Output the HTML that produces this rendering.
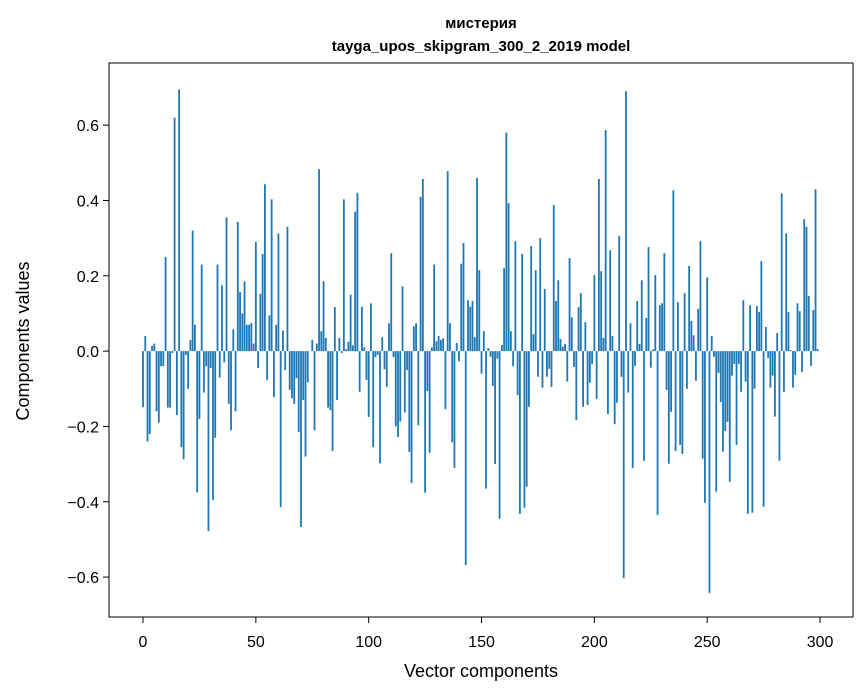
<!DOCTYPE html>
<html><head><meta charset="utf-8"><style>
body{margin:0;background:#fff;}
svg{display:block;font-family:"Liberation Sans","DejaVu Sans",sans-serif;}
</style></head><body>
<svg id="chart" width="867" height="696" viewBox="0 0 867 696" xmlns="http://www.w3.org/2000/svg">
<rect width="867" height="696" fill="#fff"/>
<text x="481" y="28" text-anchor="middle" font-size="15" font-weight="bold">мистерия</text>
<text x="481" y="51" text-anchor="middle" font-size="15" font-weight="bold">tayga_upos_skipgram_300_2_2019 model</text>
<g id="bars"></g>
<g id="axes"></g>
<rect x="109" y="63" width="744" height="554" fill="none" stroke="#000" stroke-width="1"/>
<text x="481" y="677" text-anchor="middle" font-size="18">Vector components</text>
<text transform="translate(29,341) rotate(-90)" text-anchor="middle" font-size="18">Components values</text>
</svg>
<script>
const values = [
-0.149,0.04,-0.24,-0.22,0.014,0.02,-0.16,-0.19,-0.04,-0.04,
0.25,-0.15,-0.15,-0.005,0.62,-0.17,0.695,-0.255,-0.287,-0.01,
-0.1,0.03,0.32,0.07,-0.375,-0.18,0.23,-0.11,-0.04,-0.478,
-0.045,-0.395,-0.23,0.23,-0.07,0.175,-0.03,0.355,-0.14,-0.21,
0.058,-0.16,0.343,0.157,0.1,0.185,0.07,0.07,0.075,0.02,
0.29,-0.045,0.152,0.258,0.443,-0.077,0.095,0.403,-0.122,0.07,
0.312,-0.414,0.055,-0.05,0.33,-0.103,-0.125,-0.14,-0.072,-0.215,
-0.467,-0.13,-0.28,-0.083,0,0.03,-0.21,0.02,0.483,0.053,
0.185,0.035,-0.15,-0.157,-0.265,0.117,-0.13,0.035,-0.005,0.403,
0.005,0.025,0.15,0.015,0.37,0.42,-0.108,0.118,0.01,-0.077,
-0.175,0.127,-0.255,-0.016,-0.01,-0.298,0.037,-0.048,-0.095,0.074,
0.26,-0.016,-0.2,-0.228,-0.187,0.172,-0.163,-0.05,-0.268,-0.35,
0.066,0.074,-0.197,0.41,0.457,-0.376,-0.106,-0.27,0.01,0.23,
0.026,0.04,0.03,0.034,-0.154,0.478,0.074,-0.242,-0.31,0.022,
-0.027,0.232,0.287,-0.568,0.135,0.118,0.133,0.037,0.46,0.215,
-0.06,0.053,-0.365,0.008,-0.015,-0.093,-0.3,-0.02,-0.445,0.016,
0.22,0.58,0.393,0.053,-0.04,0.292,-0.117,-0.432,0.258,-0.416,
-0.36,-0.148,0.279,0.045,0.215,-0.068,0.3,-0.097,0.165,-0.068,
-0.047,-0.095,0.388,0.133,0.188,0.032,0.012,0.019,-0.081,0.247,
0.09,-0.042,-0.183,0.117,0.154,-0.148,0.077,-0.143,-0.084,-0.034,
0.202,-0.127,0.457,0.212,0.035,0.587,-0.167,0.268,0.04,-0.194,
-0.137,0.306,-0.068,-0.603,0.69,-0.11,0.074,-0.31,-0.039,0.133,
0.019,0.188,-0.291,0.088,0.276,-0.044,0.005,0.202,-0.435,0.122,
0.127,0.26,-0.103,-0.299,-0.161,0.427,-0.265,0.13,-0.249,-0.273,
0.154,-0.1,0.226,0.08,0.042,-0.079,0.112,0.292,-0.286,-0.403,
0.196,-0.642,0.04,-0.015,-0.373,-0.058,-0.135,-0.267,-0.212,-0.188,
-0.347,-0.065,-0.034,-0.249,-0.034,-0.108,0.135,-0.081,-0.432,0.122,
-0.429,-0.1,0.12,0.104,0.239,-0.413,0.064,-0.018,-0.097,-0.065,
-0.174,0.048,-0.291,0.419,-0.108,0.313,0.104,0.003,-0.097,-0.063,
0.127,0.106,-0.055,0.35,0.33,0.146,-0.039,0.109,0.43,0.005
];
const xTicks = [0,50,100,150,200,250,300];
const yTicks = [-0.6,-0.4,-0.2,0.0,0.2,0.4,0.6];
const yTickLabels = ["\u22120.6","\u22120.4","\u22120.2","0.0","0.2","0.4","0.6"];

const NS="http://www.w3.org/2000/svg";
const X0=109,X1=853,Y0=63,Y1=617;
const xMin=-15.07,xMax=314.6,yMin=-0.706,yMax=0.765;
function xs(v){return X0+(v-xMin)/(xMax-xMin)*(X1-X0);}
function ys(v){return Y1-(v-yMin)/(yMax-yMin)*(Y1-Y0);}
const bars=document.getElementById('bars');
values.forEach((v,i)=>{
  const r=document.createElementNS(NS,'rect');
  const w=xs(0.8)-xs(0);
  const top=ys(Math.max(v,0)), bot=ys(Math.min(v,0));
  r.setAttribute('x',xs(i)-w/2);
  r.setAttribute('y',top);
  r.setAttribute('width',w);
  r.setAttribute('height',Math.max(bot-top,0));
  r.setAttribute('fill','#1f77b4');
  
  
  bars.appendChild(r);
});
const axes=document.getElementById('axes');
xTicks.forEach(t=>{
  const l=document.createElementNS(NS,'line');
  l.setAttribute('x1',xs(t));l.setAttribute('x2',xs(t));
  l.setAttribute('y1',Y1);l.setAttribute('y2',Y1+6);
  l.setAttribute('stroke','#000');
  
  
  axes.appendChild(l);
  const tx=document.createElementNS(NS,'text');
  tx.setAttribute('x',xs(t));tx.setAttribute('y',Y1+30);
  tx.setAttribute('text-anchor','middle');tx.setAttribute('font-size','16');
  tx.textContent=String(t);
  
  
  axes.appendChild(tx);
});
yTicks.forEach((t,k)=>{
  const l=document.createElementNS(NS,'line');
  l.setAttribute('x1',X0-6);l.setAttribute('x2',X0);
  l.setAttribute('y1',ys(t));l.setAttribute('y2',ys(t));
  l.setAttribute('stroke','#000');
  
  
  axes.appendChild(l);
  const tx=document.createElementNS(NS,'text');
  tx.setAttribute('x',X0-10);tx.setAttribute('y',ys(t)+6);
  tx.setAttribute('text-anchor','end');tx.setAttribute('font-size','16');
  tx.textContent=yTickLabels[k];
  
  
  axes.appendChild(tx);
});
</script>
</body></html>
